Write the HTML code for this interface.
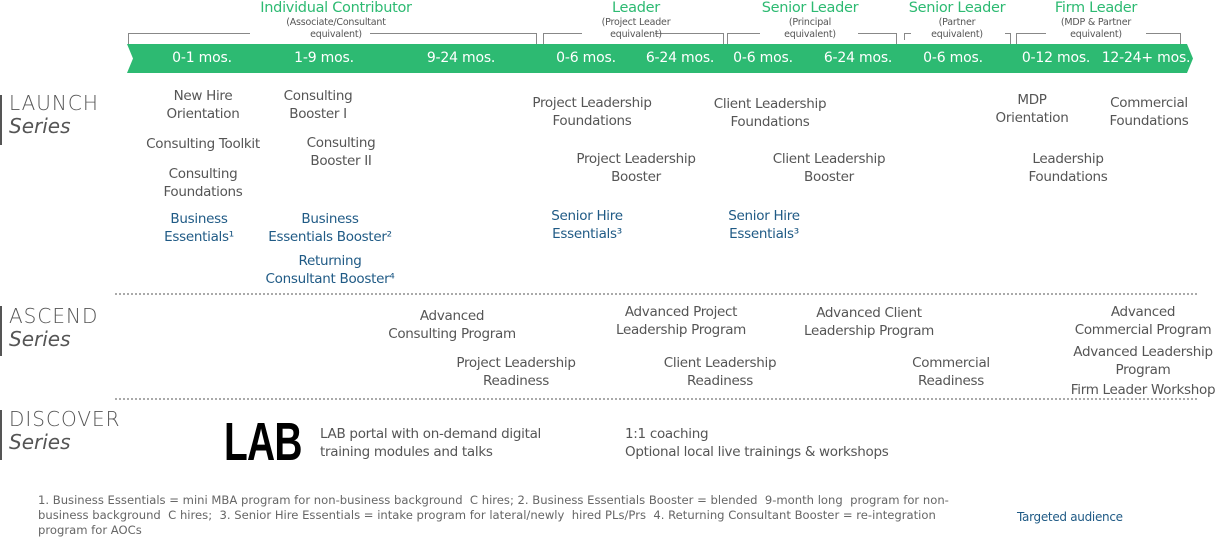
<!DOCTYPE html>
<html><head><meta charset="utf-8">
<style>
body{margin:0;width:1218px;height:537px;background:#fff;position:relative;overflow:hidden;font-family:"DejaVu Sans","Liberation Sans",sans-serif;}
.t{position:absolute;transform:translateX(-50%);text-align:center;white-space:nowrap;font-size:13.5px;line-height:18px;color:#555;letter-spacing:-0.3px}
.b{color:#1f5a85}
.l{position:absolute;white-space:nowrap;font-size:13.5px;line-height:18px;color:#555;letter-spacing:-0.3px}
.hd{position:absolute;transform:translateX(-50%);text-align:center;white-space:nowrap;color:#2dba72;font-size:14.5px;line-height:16px;letter-spacing:-0.3px}
.hd small{display:block;font-size:9.5px;line-height:12px;color:#555;letter-spacing:-0.2px;margin-top:1px}
.mo{position:absolute;transform:translateX(-50%);color:#fff;font-size:14px;top:50px;white-space:nowrap;letter-spacing:-0.2px}
.ser{position:absolute;left:9px;font-size:20px;line-height:23px;color:#555;font-weight:300;letter-spacing:1px}
.ser i{display:block;font-size:20px;letter-spacing:0}
.bar{position:absolute;left:0;width:2px;background:#555}
.dot{position:absolute;left:115px;width:1082px;border-top:2px dotted #aaa}
</style></head><body>
<svg width="1218" height="80" style="position:absolute;left:0;top:0">
<polygon points="127,44 1187,44 1193,58.5 1187,73 127,73 133,58.5" fill="#2dba72"/>
<g stroke="#888" stroke-width="1" fill="none">
<path d="M128.5,44V33.5H250M370,33.5H536.5V44"/>
<path d="M543.5,44V33.5H582M655,33.5H723.5V44"/>
<path d="M727.5,44V33.5H760M858,33.5H896.5V44"/>
<path d="M904.5,40V33.5H911M1005,33.5H1010.5V44"/>
<path d="M1016.5,44V33.5H1046M1146,33.5H1180.5V44"/>
</g></svg>
<div class="hd" style="left:336px;top:0">Individual Contributor<small>(Associate/Consultant<br>equivalent)</small></div>
<div class="hd" style="left:636px;top:0">Leader<small>(Project Leader<br>equivalent)</small></div>
<div class="hd" style="left:810px;top:0">Senior Leader<small>(Principal<br>equivalent)</small></div>
<div class="hd" style="left:957px;top:0">Senior Leader<small>(Partner<br>equivalent)</small></div>
<div class="hd" style="left:1096px;top:0">Firm Leader<small>(MDP &amp; Partner<br>equivalent)</small></div>
<div class="mo" style="left:202px">0-1 mos.</div>
<div class="mo" style="left:324px">1-9 mos.</div>
<div class="mo" style="left:461px">9-24 mos.</div>
<div class="mo" style="left:586px">0-6 mos.</div>
<div class="mo" style="left:680px">6-24 mos.</div>
<div class="mo" style="left:763px">0-6 mos.</div>
<div class="mo" style="left:858px">6-24 mos.</div>
<div class="mo" style="left:953px">0-6 mos.</div>
<div class="mo" style="left:1056px">0-12 mos.</div>
<div class="mo" style="left:1146px">12-24+ mos.</div>

<div class="bar" style="top:95px;height:50px"></div>
<div class="ser" style="top:92px">LAUNCH<i>Series</i></div>
<div class="bar" style="top:306px;height:50px"></div>
<div class="ser" style="top:305px">ASCEND<i>Series</i></div>
<div class="bar" style="top:410px;height:50px"></div>
<div class="ser" style="top:408px">DISCOVER<i>Series</i></div>

<div class="t" style="left:203px;top:87px">New Hire<br>Orientation</div>
<div class="t" style="left:203px;top:135px">Consulting Toolkit</div>
<div class="t" style="left:203px;top:165px">Consulting<br>Foundations</div>
<div class="t b" style="left:199px;top:210px">Business<br>Essentials¹</div>
<div class="t" style="left:318px;top:87px">Consulting<br>Booster I</div>
<div class="t" style="left:341px;top:134px">Consulting<br>Booster II</div>
<div class="t b" style="left:330px;top:210px">Business<br>Essentials Booster²</div>
<div class="t b" style="left:330px;top:252px">Returning<br>Consultant Booster⁴</div>
<div class="t" style="left:592px;top:94px">Project Leadership<br>Foundations</div>
<div class="t" style="left:636px;top:150px">Project Leadership<br>Booster</div>
<div class="t b" style="left:587px;top:207px">Senior Hire<br>Essentials³</div>
<div class="t" style="left:770px;top:95px">Client Leadership<br>Foundations</div>
<div class="t" style="left:829px;top:150px">Client Leadership<br>Booster</div>
<div class="t b" style="left:764px;top:207px">Senior Hire<br>Essentials³</div>
<div class="t" style="left:1032px;top:91px">MDP<br>Orientation</div>
<div class="t" style="left:1068px;top:150px">Leadership<br>Foundations</div>
<div class="t" style="left:1149px;top:94px">Commercial<br>Foundations</div>

<div class="dot" style="top:293px"></div>

<div class="t" style="left:452px;top:307px">Advanced<br>Consulting Program</div>
<div class="t" style="left:516px;top:354px">Project Leadership<br>Readiness</div>
<div class="t" style="left:681px;top:303px">Advanced Project<br>Leadership Program</div>
<div class="t" style="left:720px;top:354px">Client Leadership<br>Readiness</div>
<div class="t" style="left:869px;top:304px">Advanced Client<br>Leadership Program</div>
<div class="t" style="left:951px;top:354px">Commercial<br>Readiness</div>
<div class="t" style="left:1143px;top:303px">Advanced<br>Commercial Program</div>
<div class="t" style="left:1143px;top:343px">Advanced Leadership<br>Program</div>
<div class="t" style="left:1143px;top:381px">Firm Leader Workshop</div>

<div class="dot" style="top:398px"></div>

<div style="position:absolute;left:224px;top:412px;font-family:'Liberation Sans',sans-serif;font-weight:bold;font-size:54px;line-height:60px;letter-spacing:-1px;color:#000;transform:scaleX(0.72);transform-origin:left top">LAB</div>
<div class="l" style="left:320px;top:425px">LAB portal with on-demand digital<br>training modules and talks</div>
<div class="l" style="left:625px;top:425px">1:1 coaching<br>Optional local live trainings &amp; workshops</div>

<div class="l" style="left:38px;top:493px;font-size:11.6px;line-height:15px;color:#666;letter-spacing:0">1. Business Essentials = mini MBA program for non-business background &nbsp;C hires; 2. Business Essentials Booster = blended &nbsp;9-month long &nbsp;program for non-<br>business background &nbsp;C hires; &nbsp;3. Senior Hire Essentials = intake program for lateral/newly &nbsp;hired PLs/Prs &nbsp;4. Returning Consultant Booster = re-integration<br>program for AOCs</div>
<div class="l b" style="left:1017px;top:508px;font-size:12px;color:#1f5a85">Targeted audience</div>
</body></html>
